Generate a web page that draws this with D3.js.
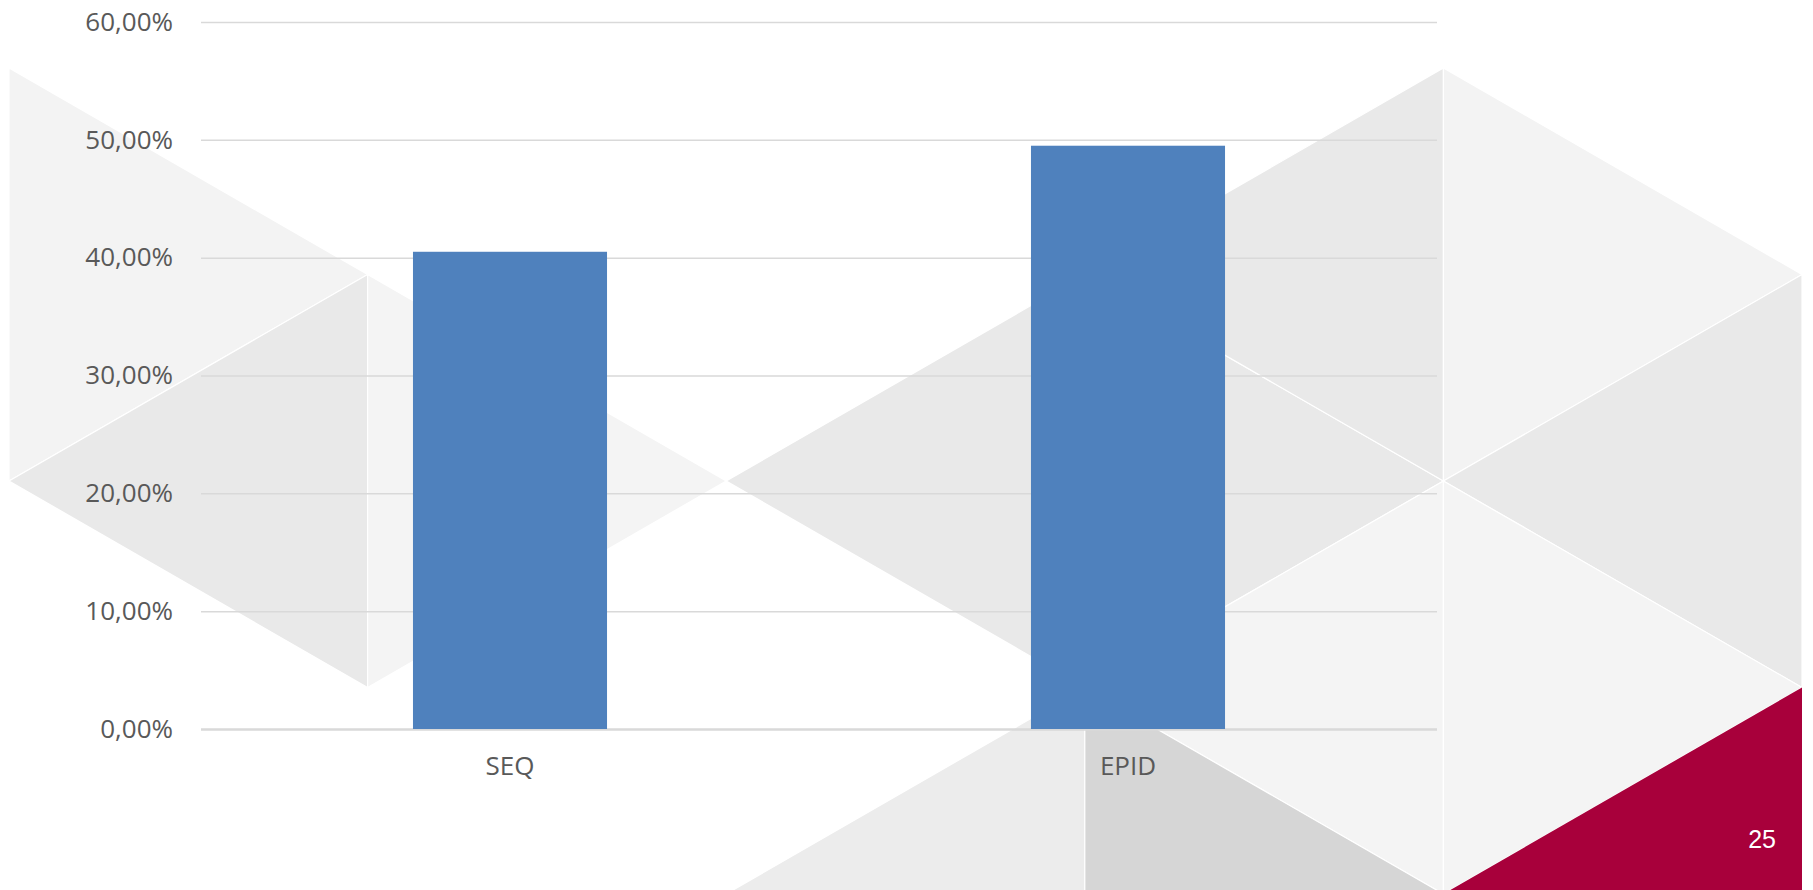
<!DOCTYPE html>
<html>
<head>
<meta charset="utf-8">
<script src="https://cdn.jsdelivr.net/npm/d3@7"></script>
<style>
  html, body { margin: 0; padding: 0; background: #ffffff; }
  svg { display: block; }
</style>
</head>
<body>
<svg id="chart" width="1813" height="890"></svg>
<script>
// ---- data ----
const categories = ["SEQ", "EPID"];
const values = [0.405, 0.495];
const yTicks = [0, 0.1, 0.2, 0.3, 0.4, 0.5, 0.6];
const pageNumber = "25";

// ---- background decoration (isometric triangles) ----
// each triangle: [colA, kA, kB (vertical edge on colA), colApex, kApex, fill]
const bgTriangles = [
  [0, 0, 2, 1, 1, "#f3f3f3"],
  [1, 1, 3, 0, 2, "#e9e9e9"],
  [1, 1, 3, 2, 2, "#f4f4f4"],
  [3, 1, 3, 2, 2, "#e9e9e9"],
  [3, 3, 5, 2, 4, "#ececec"],
  [3, 1, 3, 4, 2, "#e9e9e9"],
  [4, 0, 2, 3, 1, "#e9e9e9"],
  [4, 2, 4, 3, 3, "#f4f4f4"],
  [3, 3, 5, 4, 4, "#d6d6d6"],
  [4, 0, 2, 5, 1, "#f3f3f3"],
  [5, 1, 3, 4, 2, "#e9e9e9"],
  [4, 2, 4, 5, 3, "#f4f4f4"],
  [5, 3, 5, 4, 4, "#a8003b"]
];

const svg = d3.select("#chart");

const gx = d3.scaleLinear().domain([0, 5]).range([9, 1802]);
const gy = d3.scaleLinear().domain([0, 4]).range([68, 894]);

const bg = svg.append("g");
bg.selectAll("polygon")
  .data(bgTriangles)
  .join("polygon")
  .attr("points", d => [
      [gx(d[0]), gy(d[1])],
      [gx(d[0]), gy(d[2])],
      [gx(d[3]), gy(d[4])]
    ].map(p => p.join(",")).join(" "))
  .attr("fill", d => d[5])
  .attr("stroke", d => d[5] === "#a8003b" ? "none" : "#ffffff")
  .attr("stroke-width", 1.2);

// ---- chart ----
const plotLeft = 201, plotRight = 1437, plotTop = 22, plotBottom = 729;

const x = d3.scaleBand()
  .domain(categories)
  .range([plotLeft, plotRight])
  .paddingInner(0.686)
  .paddingOuter(0.343);

const y = d3.scaleLinear()
  .domain([0, 0.6])
  .range([plotBottom, plotTop]);

const locale = d3.formatLocale({
  decimal: ",", thousands: ".", grouping: [3], currency: ["", " €"], percent: "%"
});
const fmt = locale.format(".2%");

// y axis with gridlines
const yAxis = svg.append("g")
  .attr("transform", `translate(${plotLeft},0)`)
  .call(d3.axisLeft(y)
    .tickValues(yTicks)
    .tickSize(-(plotRight - plotLeft))
    .tickPadding(28)
    .tickFormat(fmt));
yAxis.select(".domain").remove();
yAxis.selectAll(".tick line")
  .attr("stroke", "#d9d9d9")
  .attr("stroke-width", d => d === 0 ? 2.5 : 1.5);
yAxis.selectAll(".tick text")
  .attr("fill", "#595959")
  .style("font-family", "'Open Sans', 'Noto Sans', sans-serif")
  .style("font-size", "26px");

// bars
svg.append("g")
  .selectAll("rect")
  .data(values)
  .join("rect")
  .attr("x", (d, i) => x(categories[i]))
  .attr("y", d => y(d))
  .attr("width", x.bandwidth())
  .attr("height", d => y(0) - y(d))
  .attr("fill", "#4f81bd");

// x axis labels
const xAxis = svg.append("g")
  .attr("transform", `translate(0,${plotBottom})`)
  .call(d3.axisBottom(x).tickSize(0).tickPadding(28));
xAxis.select(".domain").remove();
xAxis.selectAll(".tick text")
  .attr("fill", "#595959")
  .style("font-family", "'Open Sans', 'Noto Sans', sans-serif")
  .style("font-size", "26px");

// page number
svg.append("text")
  .attr("x", 1776)
  .attr("y", 848)
  .attr("text-anchor", "end")
  .attr("fill", "#ffffff")
  .style("font-family", "'Liberation Sans', Arial, sans-serif")
  .style("font-size", "25px")
  .text(pageNumber);
</script>
</body>
</html>
